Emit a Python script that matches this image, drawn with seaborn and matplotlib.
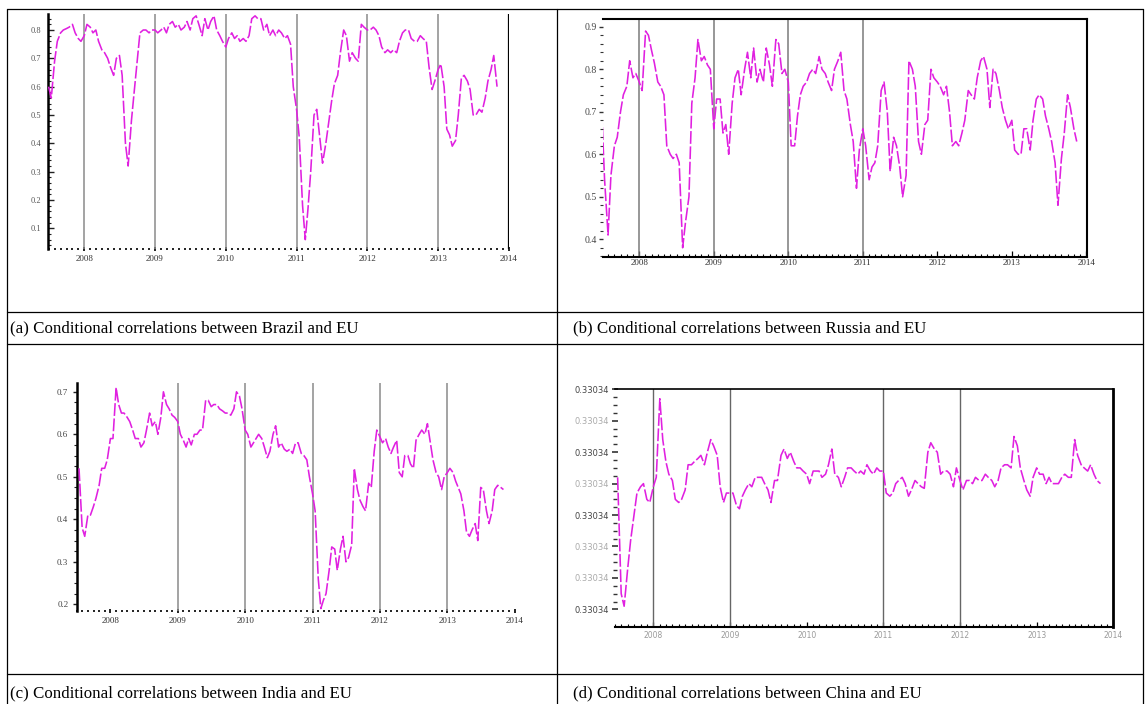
import numpy as np
import pandas as pd
import matplotlib
matplotlib.use("Agg")
import matplotlib.pyplot as plt
import seaborn as sns
from matplotlib.ticker import MultipleLocator, FixedLocator, FixedFormatter
from matplotlib.lines import Line2D

# ---------------------------------------------------------------------------
# Semi-monthly conditional correlations with the EU (DCC estimates)
# ---------------------------------------------------------------------------
brazil_start = "2007-07-01"
brazil = [0.60, 0.56, 0.69, 0.76, 0.79, 0.80, 0.805, 0.81, 0.82, 0.79,
          0.77, 0.76, 0.78, 0.82, 0.81, 0.79, 0.80, 0.76, 0.73, 0.72,
          0.70, 0.67, 0.64, 0.70, 0.71, 0.64, 0.40, 0.32, 0.48, 0.58,
          0.69, 0.79, 0.80, 0.80, 0.79, 0.80, 0.80, 0.79, 0.80, 0.81,
          0.79, 0.82, 0.83, 0.81, 0.82, 0.80, 0.81, 0.83, 0.80, 0.84,
          0.85, 0.82, 0.78, 0.84, 0.80, 0.83, 0.85, 0.80, 0.78, 0.76,
          0.74, 0.77, 0.79, 0.77, 0.78, 0.76, 0.77, 0.76, 0.78, 0.84,
          0.85, 0.84, 0.84, 0.80, 0.82, 0.78, 0.80, 0.78, 0.80, 0.79,
          0.77, 0.78, 0.75, 0.60, 0.52, 0.42, 0.18, 0.06, 0.17, 0.30,
          0.50, 0.52, 0.42, 0.33, 0.40, 0.47, 0.55, 0.61, 0.64, 0.72,
          0.80, 0.78, 0.69, 0.72, 0.70, 0.69, 0.82, 0.81, 0.80, 0.80,
          0.81, 0.80, 0.78, 0.74, 0.72, 0.73, 0.72, 0.73, 0.72, 0.76,
          0.79, 0.80, 0.80, 0.77, 0.76, 0.76, 0.78, 0.77, 0.76, 0.67,
          0.59, 0.62, 0.66, 0.68, 0.60, 0.45, 0.43, 0.39, 0.41, 0.50,
          0.63, 0.64, 0.62, 0.59, 0.50, 0.50, 0.52, 0.51, 0.56, 0.62,
          0.66, 0.71, 0.60]

russia_start = "2007-07-01"
russia = [0.70, 0.54, 0.41, 0.55, 0.62, 0.64, 0.70, 0.74, 0.76, 0.82,
          0.78, 0.79, 0.77, 0.75, 0.89, 0.88, 0.845, 0.815, 0.77, 0.76,
          0.74, 0.62, 0.60, 0.59, 0.60, 0.58, 0.38, 0.44, 0.50, 0.72,
          0.78, 0.87, 0.82, 0.83, 0.81, 0.80, 0.66, 0.73, 0.73, 0.65,
          0.67, 0.60, 0.72, 0.78, 0.80, 0.74, 0.80, 0.84, 0.78, 0.85,
          0.77, 0.80, 0.77, 0.85, 0.81, 0.76, 0.87, 0.86, 0.79, 0.80,
          0.77, 0.62, 0.62, 0.69, 0.74, 0.76, 0.77, 0.79, 0.80, 0.79,
          0.83, 0.80, 0.79, 0.77, 0.75, 0.80, 0.82, 0.84, 0.75, 0.73,
          0.67, 0.63, 0.52, 0.61, 0.66, 0.62, 0.54, 0.57, 0.58, 0.62,
          0.75, 0.77, 0.70, 0.56, 0.64, 0.62, 0.57, 0.50, 0.55, 0.82,
          0.80, 0.76, 0.63, 0.60, 0.67, 0.68, 0.80, 0.78, 0.77, 0.76,
          0.74, 0.76, 0.70, 0.62, 0.63, 0.62, 0.65, 0.68, 0.75, 0.74,
          0.73, 0.78, 0.82, 0.83, 0.80, 0.71, 0.80, 0.79, 0.75, 0.71,
          0.68, 0.66, 0.68, 0.61, 0.60, 0.60, 0.66, 0.66, 0.61, 0.68,
          0.73, 0.74, 0.73, 0.69, 0.66, 0.63, 0.58, 0.48, 0.59, 0.65,
          0.74, 0.71, 0.66, 0.63]

india_start = "2007-07-15"
india = [0.52, 0.38, 0.36, 0.41, 0.41, 0.43, 0.45, 0.48, 0.52, 0.52,
         0.54, 0.59, 0.59, 0.71, 0.67, 0.65, 0.65, 0.64, 0.63, 0.61,
         0.59, 0.59, 0.57, 0.58, 0.61, 0.65, 0.62, 0.63, 0.60, 0.64,
         0.70, 0.67, 0.66, 0.645, 0.64, 0.63, 0.60, 0.585, 0.57, 0.59,
         0.575, 0.60, 0.60, 0.61, 0.61, 0.68, 0.68, 0.665, 0.67, 0.67,
         0.66, 0.655, 0.65, 0.65, 0.645, 0.66, 0.70, 0.69, 0.66, 0.61,
         0.60, 0.57, 0.58, 0.59, 0.60, 0.59, 0.57, 0.545, 0.56, 0.60,
         0.62, 0.57, 0.58, 0.565, 0.56, 0.565, 0.555, 0.58, 0.58, 0.555,
         0.55, 0.54, 0.50, 0.46, 0.42, 0.26, 0.19, 0.21, 0.225, 0.28,
         0.335, 0.33, 0.28, 0.33, 0.36, 0.30, 0.31, 0.34, 0.52, 0.47,
         0.445, 0.43, 0.42, 0.485, 0.475, 0.56, 0.61, 0.594, 0.58, 0.59,
         0.57, 0.555, 0.57, 0.586, 0.51, 0.50, 0.55, 0.55, 0.53, 0.52,
         0.586, 0.60, 0.61, 0.60, 0.625, 0.58, 0.54, 0.51, 0.50, 0.47,
         0.50, 0.51, 0.52, 0.51, 0.49, 0.475, 0.46, 0.42, 0.37, 0.36,
         0.375, 0.39, 0.35, 0.475, 0.47, 0.42, 0.39, 0.42, 0.47, 0.48,
         0.476, 0.47]

china_start = "2007-07-15"
china = [0.3303402, 0.3303365, 0.3303361, 0.3303373, 0.3303382, 0.3303390, 0.3303397, 0.3303399, 0.3303400, 0.3303395,
         0.3303394, 0.3303399, 0.3303402, 0.3303427, 0.3303414, 0.3303407, 0.3303403, 0.3303401, 0.3303395, 0.3303394,
         0.3303395, 0.3303398, 0.3303406, 0.3303406, 0.3303407, 0.3303408, 0.3303409, 0.3303406, 0.3303410, 0.3303414,
         0.3303412, 0.3303409, 0.3303399, 0.3303394, 0.3303397, 0.3303397, 0.3303397, 0.3303393, 0.3303392, 0.3303396,
         0.3303398, 0.3303400, 0.3303399, 0.3303402, 0.3303402, 0.3303402, 0.3303400, 0.3303398, 0.3303394, 0.3303401,
         0.3303401, 0.3303409, 0.3303411, 0.3303408, 0.3303410, 0.3303407, 0.3303405, 0.3303405, 0.3303404, 0.3303403,
         0.3303400, 0.3303404, 0.3303404, 0.3303404, 0.3303402, 0.3303403, 0.3303406, 0.3303411, 0.3303403, 0.3303402,
         0.3303399, 0.3303402, 0.3303405, 0.3303405, 0.3303404, 0.3303403, 0.3303404, 0.3303403, 0.3303406, 0.3303404,
         0.3303403, 0.3303405, 0.3303404, 0.3303404, 0.3303397, 0.3303396, 0.3303397, 0.3303400, 0.3303401, 0.3303402,
         0.3303400, 0.3303396, 0.3303398, 0.3303401, 0.3303400, 0.3303399, 0.33033985, 0.3303410, 0.3303413, 0.3303411,
         0.3303410, 0.3303403, 0.3303404, 0.3303404, 0.3303403, 0.3303399, 0.3303405, 0.3303401, 0.3303398, 0.3303401,
         0.3303401, 0.3303400, 0.3303402, 0.3303401, 0.3303401, 0.3303403, 0.3303402, 0.3303401, 0.3303399, 0.3303401,
         0.3303405, 0.3303406, 0.3303406, 0.3303405, 0.3303415, 0.3303412, 0.3303405, 0.3303401, 0.3303398, 0.3303396,
         0.3303402, 0.3303405, 0.3303403, 0.3303403, 0.3303400, 0.3303402, 0.3303400, 0.3303400, 0.3303400, 0.3303402,
         0.3303403, 0.3303402, 0.3303402, 0.3303414, 0.3303409, 0.3303406, 0.3303405, 0.3303404, 0.3303406, 0.3303403,
         0.3303401, 0.3303400]

years = [2008, 2009, 2010, 2011, 2012, 2013, 2014]
year_labels = [str(y) for y in years]

captions = ["(a) Conditional correlations between Brazil and EU",
            "(b) Conditional correlations between Russia and EU",
            "(c) Conditional correlations between India and EU",
            "(d) Conditional correlations between China and EU"]

brazil_yticks = [0.1, 0.2, 0.3, 0.4, 0.5, 0.6, 0.7, 0.8]
russia_yticks = [0.4, 0.5, 0.6, 0.7, 0.8, 0.9]
india_yticks = [0.2, 0.3, 0.4, 0.5, 0.6, 0.7]
china_yticks = [0.330336, 0.330337, 0.330338, 0.330339,
                0.330340, 0.330341, 0.330342, 0.330343]

# ---------------------------------------------------------------------------
sns.set_theme(style="white")
plt.rcParams["font.family"] = ["Liberation Serif", "DejaVu Serif"]

W, H = 1146, 704
fig = plt.figure(figsize=(W / 100, H / 100), dpi=100)
MAGENTA = "#e020e0"


def px_box(left, top, right, bottom):
    return [left / W, 1 - bottom / H, (right - left) / W, (bottom - top) / H]


def decimal_year(start, n):
    d = pd.date_range(start, periods=n, freq="SMS")
    days = np.where(d.is_leap_year, 366.0, 365.0)
    return np.asarray(d.year, dtype=float) + (np.asarray(d.dayofyear, dtype=float) - 1) / days


def draw_series(ax, start, values):
    df = pd.DataFrame({"year": decimal_year(start, len(values)), "corr": values})
    sns.lineplot(data=df, x="year", y="corr", ax=ax, color=MAGENTA, lw=1.15,
                 linestyle=(0, (8, 1.6)), estimator=None, zorder=3)
    ax.set_xlabel("")
    ax.set_ylabel("")


def year_axis(ax, fs, color, pad):
    ax.set_xticks(years)
    ax.set_xticklabels(year_labels, fontsize=fs, color=color)
    ax.xaxis.set_minor_locator(MultipleLocator(1 / 12))
    ax.tick_params(axis="x", which="both", bottom=True, pad=pad)


# ---------------- (a) Brazil ----------------
ax_a = fig.add_axes(px_box(48.3, 14, 509.3, 249.3))
for yr in years[:-1]:
    ax_a.axvline(yr, color="#8a8a8a", lw=1.1, zorder=1)
ax_a.axvline(2014, color="black", lw=1.6, zorder=1)
draw_series(ax_a, brazil_start, brazil)
ax_a.set_xlim(2007.492, 2014.006)
ax_a.set_ylim(0.026, 0.8565)
for s in ["top", "right", "bottom"]:
    ax_a.spines[s].set_visible(False)
ax_a.spines["left"].set_color("black")
ax_a.spines["left"].set_linewidth(1.8)
year_axis(ax_a, 6.5, "#333333", 3)
ax_a.tick_params(axis="x", which="major", direction="inout", length=2.5, width=1.4, color="#222222")
ax_a.tick_params(axis="x", which="minor", direction="inout", length=1.4, width=1.4, color="#222222")
ax_a.set_yticks(brazil_yticks)
ax_a.set_yticklabels([f"{v:.1f}" for v in brazil_yticks], fontsize=6, color="#555555")
ax_a.yaxis.set_minor_locator(MultipleLocator(0.02))
ax_a.tick_params(axis="y", which="both", left=True, direction="in", color="#222222", pad=5)
ax_a.tick_params(axis="y", which="major", length=4, width=1.0)
ax_a.tick_params(axis="y", which="minor", length=2.5, width=0.8)

# ---------------- (b) Russia ----------------
ax_b = fig.add_axes(px_box(603.3, 19.3, 1086.7, 256.7))
for yr in [2008, 2009, 2010, 2011]:
    ax_b.axvline(yr, color="#7a7a7a", lw=1.1, zorder=1)
draw_series(ax_b, russia_start, russia)
ax_b.set_xlim(2007.517, 2014.005)
ax_b.set_ylim(0.359, 0.9176)
ax_b.spines["left"].set_visible(False)
for s in ["top", "right", "bottom"]:
    ax_b.spines[s].set_color("black")
    ax_b.spines[s].set_linewidth(1.5)
year_axis(ax_b, 6.5, "#333333", 2)
ax_b.tick_params(axis="x", which="major", direction="in", length=4, width=0.9, color="black")
ax_b.tick_params(axis="x", which="minor", direction="in", length=2.5, width=0.8, color="black")
ax_b.set_yticks(russia_yticks)
ax_b.set_yticklabels([f"{v:.1f}" for v in russia_yticks], fontsize=7, color="#444444")
ax_b.yaxis.set_minor_locator(MultipleLocator(0.02))
ax_b.tick_params(axis="y", which="both", left=True, direction="out", color="#333333", pad=1.5)
ax_b.tick_params(axis="y", which="major", length=3, width=1.0)
ax_b.tick_params(axis="y", which="minor", length=2, width=0.8)

# ---------------- (c) India ----------------
ax_c = fig.add_axes(px_box(76.7, 383.3, 514.7, 610.7))
for yr in [2009, 2010, 2011, 2012, 2013]:
    ax_c.axvline(yr, color="#8a8a8a", lw=1.1, zorder=1)
draw_series(ax_c, india_start, india)
ax_c.set_xlim(2007.50, 2014.0)
ax_c.set_ylim(0.185, 0.72)
for s in ["top", "right", "bottom"]:
    ax_c.spines[s].set_visible(False)
ax_c.spines["left"].set_color("black")
ax_c.spines["left"].set_linewidth(1.8)
year_axis(ax_c, 6.5, "#333333", 3)
ax_c.tick_params(axis="x", which="major", direction="inout", length=2.5, width=1.4, color="#222222")
ax_c.tick_params(axis="x", which="minor", direction="inout", length=1.4, width=1.4, color="#222222")
ax_c.set_yticks(india_yticks)
ax_c.set_yticklabels([f"{v:.1f}" for v in india_yticks], fontsize=6.5, color="#444444")
ax_c.yaxis.set_minor_locator(MultipleLocator(0.025))
ax_c.tick_params(axis="y", which="both", left=True, direction="out", color="#222222", pad=3)
ax_c.tick_params(axis="y", which="major", length=3, width=1.0)
ax_c.tick_params(axis="y", which="minor", length=2, width=0.8)

# ---------------- (d) China ----------------
ax_d = fig.add_axes(px_box(615, 389.3, 1113.3, 627.3))
for yr in [2008, 2009, 2011, 2012]:
    ax_d.axvline(yr, color="#666666", lw=1.0, zorder=1)
draw_series(ax_d, china_start, china)
ax_d.set_xlim(2007.50, 2014.0)
ax_d.set_ylim(0.33033543, 0.330343)
ax_d.spines["left"].set_visible(False)
ax_d.spines["top"].set_linewidth(1.2)
ax_d.spines["bottom"].set_linewidth(1.5)
ax_d.spines["right"].set_linewidth(2.0)
for s in ["top", "right", "bottom"]:
    ax_d.spines[s].set_color("black")
year_axis(ax_d, 5.5, "#9a9a9a", 2.5)
for lab in ax_d.get_xticklabels():
    lab.set_family(["DejaVu Sans"])
ax_d.tick_params(axis="x", which="major", direction="in", length=3.5, width=0.9, color="black")
ax_d.tick_params(axis="x", which="minor", direction="in", length=2.5, width=0.8, color="black")
ax_d.yaxis.set_major_locator(FixedLocator(china_yticks))
ax_d.yaxis.set_major_formatter(FixedFormatter([f"{v:.5f}" for v in china_yticks]))
ax_d.yaxis.set_minor_locator(FixedLocator(
    [china_yticks[0] + i * 0.25e-6 for i in range(29)]))
ax_d.tick_params(axis="y", which="both", left=True, direction="inout", color="#333333", pad=2)
ax_d.tick_params(axis="y", which="major", length=4, width=1.2)
ax_d.tick_params(axis="y", which="minor", length=2.5, width=1.0)
shade = ["#444444", "#aaaaaa", "#aaaaaa", "#444444", "#aaaaaa", "#444444", "#aaaaaa", "#444444"]
for lab, c in zip(ax_d.get_yticklabels(), shade):
    lab.set_color(c)
    lab.set_fontsize(6)
    lab.set_family(["DejaVu Sans"])

# ---------------- table frame and captions ----------------
def hline(y, x0=7.3, x1=1142.7):
    fig.add_artist(Line2D([x0 / W, x1 / W], [1 - y / H, 1 - y / H],
                          transform=fig.transFigure, color="black", lw=0.9))


def vline(x, y0=9.3, y1=704):
    fig.add_artist(Line2D([x / W, x / W], [1 - y0 / H, 1 - y1 / H],
                          transform=fig.transFigure, color="black", lw=0.9))


for y in [9.3, 311.7, 344.3, 674.3]:
    hline(y)
for x in [7.3, 557.0, 1142.7]:
    vline(x)

caption_pos = [(10, 328), (573, 328), (10, 693), (573, 693)]
for (cx, cy), text in zip(caption_pos, captions):
    fig.text(cx / W, 1 - cy / H, text, fontsize=12.2, ha="left", va="center",
             color="black", family=["Liberation Serif", "DejaVu Serif"])

fig.savefig("out.png", dpi=100)
